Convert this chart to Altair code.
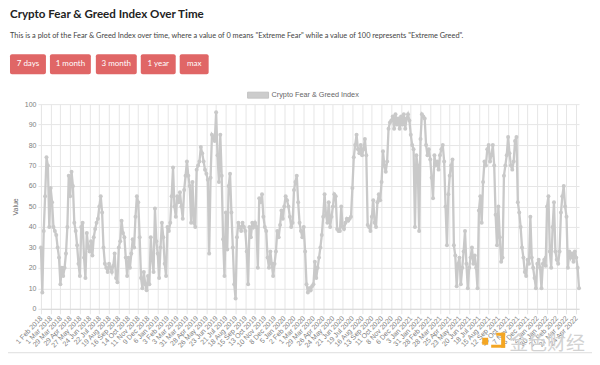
import altair as alt
import pandas as pd

# x-axis labels (one every 28 data points)
label_dates = [
    "1 Feb 2018", "1 Mar 2018", "29 Mar 2018", "29 Apr 2018", "27 May 2018", "24 Jun 2018",
    "22 Jul 2018", "19 Aug 2018", "16 Sep 2018", "14 Oct 2018", "11 Nov 2018", "9 Dec 2018",
    "6 Jan 2019", "3 Feb 2019", "3 Mar 2019", "31 Mar 2019", "28 Apr 2019", "26 May 2019",
    "23 Jun 2019", "21 Jul 2019", "18 Aug 2019", "15 Sep 2019", "13 Oct 2019", "10 Nov 2019",
    "8 Dec 2019", "5 Jan 2020", "2 Feb 2020", "1 Mar 2020", "29 Mar 2020", "26 Apr 2020",
    "24 May 2020", "21 Jun 2020", "19 Jul 2020", "16 Aug 2020", "13 Sep 2020", "11 Oct 2020",
    "8 Nov 2020", "6 Dec 2020", "3 Jan 2021", "31 Jan 2021", "28 Feb 2021", "28 Mar 2021",
    "25 Apr 2021", "23 May 2021", "20 Jun 2021", "18 Jul 2021", "15 Aug 2021", "12 Sep 2021",
    "10 Oct 2021", "7 Nov 2021", "5 Dec 2021", "2 Jan 2022", "30 Jan 2022", "27 Feb 2022",
    "27 Mar 2022", "24 Apr 2022",
]
points_per_label = 28
sample_step = 4  # index distance between the sampled values below

values_part1 = [
    30, 8, 38, 55, 74, 70, 40,
    59, 52, 40, 38, 36, 30, 25,
    12, 20, 16, 20, 27, 40, 65,
    55, 67, 60, 42, 38, 31, 22,
    16, 40, 42, 25, 15, 37, 30,
    28, 33, 26, 35, 39, 42, 44,
    50, 55, 47, 30, 22, 20, 18,
    22, 20, 18, 21, 27, 15, 13,
    30, 33, 43, 37, 35, 25, 16,
    25, 20, 27, 34, 30, 45, 55,
    52, 35, 15, 10, 18, 12, 9,
    16, 12, 35, 24, 18, 49, 33,
    27, 15, 30, 42, 35, 22, 16,
    40, 38, 42, 55, 69, 50, 45,
]
values_part2 = [
    55, 52, 57, 50, 44, 58, 65,
    72, 65, 60, 42, 62, 42, 40,
    68, 70, 72, 79, 76, 72, 68,
    66, 63, 27, 64, 85, 84, 82,
    96, 75, 62, 85, 65, 34, 16,
    47, 29, 60, 66, 47, 30, 12,
    5, 35, 42, 40, 38, 42, 40,
    38, 28, 12, 40, 35, 42, 40,
    42, 40, 20, 54, 52, 56, 45,
    40, 38, 25, 20, 28, 22, 16,
    22, 28, 38, 35, 41, 48, 44,
    50, 55, 53, 50, 45, 40, 42,
    58, 62, 65, 52, 42, 38, 35,
    40, 28, 12, 8, 10, 9, 11,
]
values_part3 = [
    12, 23, 15, 20, 25, 30, 36,
    45, 56, 46, 42, 52, 40, 45,
    50, 56, 55, 39, 38, 38, 50,
    40, 39, 42, 44, 43, 44, 45,
    59, 74, 80, 85, 78, 76, 80,
    75, 78, 83, 75, 41, 40, 38,
    45, 53, 42, 40, 52, 56, 53,
    62, 77, 70, 67, 72, 88, 91,
    92, 94, 88, 95, 90, 93, 88,
    94, 90, 95, 88, 93, 95, 92,
    85, 80, 78, 40, 75, 70, 38,
    83, 95, 94, 93, 80, 75, 78,
    73, 64, 54, 75, 70, 72, 68,
    75, 78, 80, 72, 50, 31, 56,
]
values_part4 = [
    65, 70, 73, 31, 26, 11, 22,
    25, 12, 20, 28, 38, 22, 10,
    20, 25, 30, 22, 26, 20, 10,
    48, 55, 42, 62, 72, 70, 78,
    80, 72, 75, 80, 70, 46, 31,
    50, 35, 23, 25, 65, 70, 75,
    84, 76, 70, 68, 72, 82, 84,
    52, 47, 40, 30, 25, 18, 16,
    24, 22, 45, 25, 20, 15, 10,
    22, 24, 20, 10, 22, 24, 21,
    50, 55, 28, 20, 40, 52, 28,
    24, 22, 28, 47, 55, 60, 50,
    45, 20, 28, 25, 27, 23, 28,
    25, 20, 10,
]

buttons = ["7 days", "1 month", "3 month", "1 year", "max"]
title_text = "Crypto Fear & Greed Index Over Time"
subtitle_text = ('This is a plot of the Fear & Greed Index over time, where a value of 0 means '
                 '"Extreme Fear" while a value of 100 represents "Extreme Greed".')
series_name = "Crypto Fear & Greed Index"
watermark = "金色财经"

values = values_part1 + values_part2 + values_part3 + values_part4
df = pd.DataFrame({"idx": [i * sample_step for i in range(len(values))], "value": values})
last_idx = int(df["idx"].iloc[-1])
tick_idx = [k * points_per_label for k in range(len(label_dates))]
label_js = "[" + ",".join("'" + d + "'" for d in label_dates) + "]"

GRID = "#e6e6e6"
LINE = "#c9c9c9"
AXFONT = "Liberation Sans"

W, H = 539, 205

base = alt.Chart(df)
line = base.mark_line(
    color=LINE, strokeWidth=2.3,
    point=alt.OverlayMarkDef(color=LINE, size=16, filled=True),
).encode(
    x=alt.X("idx:Q",
            scale=alt.Scale(domain=[0, last_idx], nice=False, zero=False),
            axis=alt.Axis(values=tick_idx, labelExpr=label_js + "[round(datum.value/28)]",
                          labelAngle=-47, labelAlign="right", labelBaseline="middle",
                          labelFontSize=7, labelColor="#808080", labelFont=AXFONT,
                          labelPadding=3, labelOverlap=False, labelBound=False,
                          grid=True, gridColor=GRID, tickColor=GRID, tickSize=5,
                          domainColor="#d8d8d8", title=None)),
    y=alt.Y("value:Q",
            scale=alt.Scale(domain=[0, 100], nice=False),
            axis=alt.Axis(values=list(range(0, 101, 10)), title="Value",
                          titleFontSize=7, titleFontWeight="normal", titleColor="#666",
                          titleFont=AXFONT, titlePadding=6,
                          labelFontSize=7, labelColor="#808080", labelFont=AXFONT,
                          labelPadding=2, grid=True, gridColor=GRID, tickColor=GRID,
                          tickSize=3, domainColor=GRID)),
)

one = pd.DataFrame({"a": [0]})
deco = []

deco.append(alt.Chart(one).mark_text(
    text=title_text, align="left", baseline="alphabetic", font="Lato",
    fontWeight="bold", fontSize=11.6, color="#222").encode(
    x=alt.value(-31), y=alt.value(-86)))
deco.append(alt.Chart(one).mark_text(
    text=subtitle_text, align="left", baseline="alphabetic", font="Lato",
    fontSize=7.4, color="#444").encode(
    x=alt.value(-31), y=alt.value(-66.5)))

btn_x = [(-31, 5), (9, 50), (55, 96), (100, 135), (139, 168)]
for label, (bx0, bx1) in zip(buttons, btn_x):
    deco.append(alt.Chart(one).mark_rect(color="#e06666", cornerRadius=2).encode(
        x=alt.value(bx0), x2=alt.value(bx1), y=alt.value(-50), y2=alt.value(-30)))
    deco.append(alt.Chart(one).mark_text(
        text=label, align="center", baseline="middle", font="Lato", fontSize=8,
        color="#ffffff").encode(x=alt.value((bx0 + bx1) / 2), y=alt.value(-40)))

# legend
deco.append(alt.Chart(one).mark_rect(color="#cccccc", stroke="#c4c4c4", strokeWidth=1).encode(
    x=alt.value(207), x2=alt.value(228), y=alt.value(-12), y2=alt.value(-6)))
deco.append(alt.Chart(one).mark_text(
    text=series_name, align="left", baseline="middle", font=AXFONT, fontSize=7.3,
    color="#666").encode(x=alt.value(231), y=alt.value(-9)))

# bottom separator line
deco.append(alt.Chart(one).mark_rule(color="#dedede", strokeWidth=1).encode(
    x=alt.value(-33), x2=alt.value(552), y=alt.value(249)))

# watermark
WM = "#f4a623"
for (rx0, rx1, ry0, ry1) in [(442, 448, 234, 241), (461, 465, 229, 244),
                             (451, 465, 241, 244), (456, 465, 229, 232)]:
    deco.append(alt.Chart(one).mark_rect(color=WM).encode(
        x=alt.value(rx0), x2=alt.value(rx1), y=alt.value(ry0), y2=alt.value(ry1)))
deco.append(alt.Chart(one).mark_text(
    text=watermark, align="left", baseline="middle", font="Noto Sans CJK SC",
    fontSize=19, color="#d2d2d2").encode(x=alt.value(469), y=alt.value(240)))

chart = alt.layer(line, *deco).properties(
    width=W, height=H,
    autosize=alt.AutoSizeParams(type="none"),
    padding={"left": 33, "top": 96, "right": 13, "bottom": 52},
    background="#ffffff",
).configure_view(stroke=None)

chart.save("out.html", embed_options={"renderer": "svg", "actions": False})
